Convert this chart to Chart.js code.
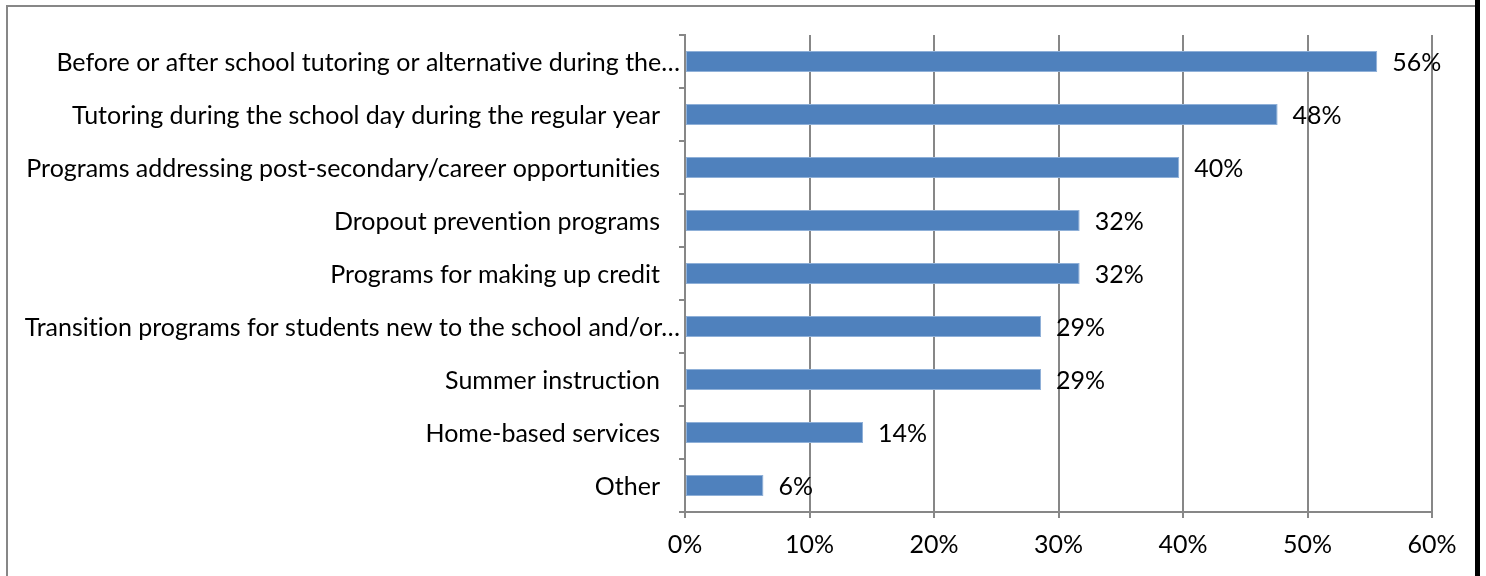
<!DOCTYPE html>
<html>
<head>
<meta charset="utf-8">
<title>Support programs</title>
<script src="https://cdn.jsdelivr.net/npm/chart.js@4/dist/chart.umd.min.js"></script>
<style>
  html, body { margin: 0; padding: 0; background: #fff; overflow: hidden; }
  #wrap { position: relative; width: 1486px; height: 576px; }
</style>
</head>
<body>
<div id="wrap"><canvas id="grafica-programas"></canvas></div>
<script>
// categorias y porcentajes (de arriba hacia abajo)
const programas = [
  "Before or after school tutoring or alternative during the\u2026",
  "Tutoring during the school day during the regular year",
  "Programs addressing post-secondary/career opportunities",
  "Dropout prevention programs",
  "Programs for making up credit",
  "Transition programs for students new to the school and/or\u2026",
  "Summer instruction",
  "Home-based services",
  "Other"
];
const porcentajes = [55.6, 47.6, 39.7, 31.7, 31.7, 28.6, 28.6, 14.3, 6.3];
const ticksX = [0, 10, 20, 30, 40, 50, 60];

const FUENTE = "Lato, 'Open Sans', sans-serif";
const GRIS = "#878787";

// marco del grafico: borde gris y linea negra a la derecha
const marco = {
  id: "marco",
  beforeDraw(chart) {
    const ctx = chart.ctx;
    // sin ligaduras (ti, fi) en los textos
    ctx.textRendering = "optimizeSpeed";
    ctx.save();
    ctx.fillStyle = "#fff";
    ctx.fillRect(0, 0, chart.width, chart.height);
    ctx.strokeStyle = GRIS;
    ctx.lineWidth = 2;
    ctx.beginPath();
    ctx.moveTo(7, chart.height);
    ctx.lineTo(7, 6);
    ctx.lineTo(1476, 6);
    ctx.stroke();
    ctx.fillStyle = "#000";
    ctx.fillRect(1475, 0, 5, chart.height);
    ctx.restore();
  }
};

// nombres de categoria: los recortados con "…" llegan casi hasta el eje
const categorias = {
  id: "categorias",
  afterDraw(chart) {
    const ctx = chart.ctx;
    const y = chart.scales.y;
    ctx.save();
    ctx.font = "25px " + FUENTE;
    ctx.fillStyle = "#000";
    ctx.textAlign = "right";
    ctx.textBaseline = "middle";
    programas.forEach((txt, i) => {
      const gap = txt.endsWith("\u2026") ? 5 : 25;
      ctx.fillText(txt, y.right - gap, y.getPixelForValue(i) + 1);
    });
    ctx.restore();
  }
};

// etiquetas de valor al final de cada barra
const etiquetas = {
  id: "etiquetas",
  afterDatasetsDraw(chart) {
    const ctx = chart.ctx;
    const meta = chart.getDatasetMeta(0);
    ctx.save();
    ctx.font = "25px " + FUENTE;
    ctx.fillStyle = "#000";
    ctx.textAlign = "left";
    ctx.textBaseline = "middle";
    meta.data.forEach((bar, i) => {
      ctx.fillText(Math.round(porcentajes[i]) + "%", bar.x + 15, bar.y + 1);
    });
    ctx.restore();
  }
};

new Chart(document.getElementById("grafica-programas"), {
  type: "bar",
  data: {
    labels: programas,
    datasets: [{
      data: porcentajes,
      backgroundColor: "#4F81BD",
      borderColor: "#8fb0d8",
      borderWidth: 1,
      borderSkipped: false,
      categoryPercentage: 1,
      barPercentage: 0.4
    }]
  },
  options: {
    indexAxis: "y",
    responsive: true,
    maintainAspectRatio: false,
    animation: false,
    layout: { padding: { top: 35, right: 54, left: 0, bottom: 0 } },
    plugins: {
      legend: { display: false },
      tooltip: { enabled: false }
    },
    scales: {
      x: {
        min: 0,
        max: 60,
        afterFit: s => { s.height = 64; },
        afterBuildTicks: s => { s.ticks = ticksX.map(v => ({ value: v })); },
        ticks: {
          color: "#000",
          font: { family: FUENTE, size: 25 },
          padding: 12,
          callback: v => v + "%"
        },
        grid: { color: GRIS, lineWidth: 2, tickLength: 6 },
        border: { color: GRIS, width: 2 }
      },
      y: {
        afterFit: s => { s.width = 685; },
        ticks: { display: false, autoSkip: false },
        grid: { drawOnChartArea: false, color: GRIS, lineWidth: 2, tickLength: 6 },
        border: { color: GRIS, width: 2 }
      }
    }
  },
  plugins: [marco, categorias, etiquetas]
});
</script>
</body>
</html>
